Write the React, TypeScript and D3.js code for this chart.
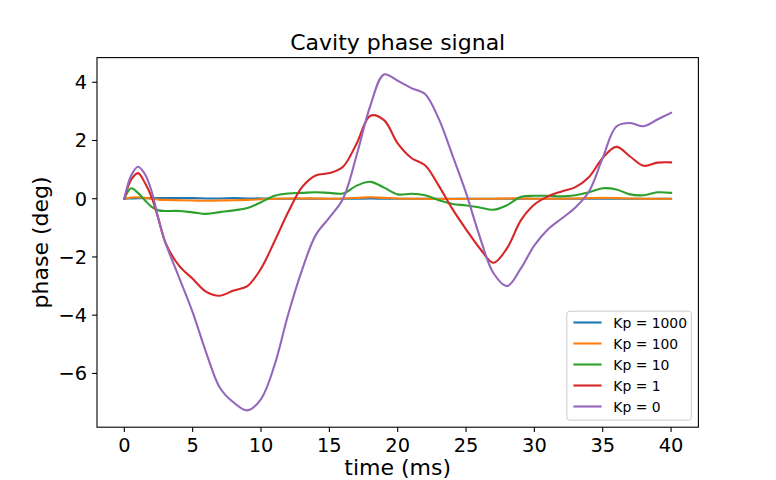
import * as d3 from 'd3';

// time samples (ms), finer near the start where the curves move fast
const TIME = [
  0, 0.5, 1, 1.5, 2, 2.5, 3, 4, 5, 6, 7, 8, 9, 10, 11, 12, 13, 14, 15, 16, 17, 18,
  19, 20, 21, 22, 23, 24, 25, 26, 27, 28, 29, 30, 31, 32, 33, 34, 35, 36, 37, 38, 39, 40,
];

const KP_1000 = [
  0, 0.01, 0.02, 0.02, 0.02, 0.02, 0.02, 0.02, 0.02, 0.01, 0.01, 0.02, 0.01, 0.01, 0, 0,
  0, 0, 0, 0, 0, 0.01, 0, 0, 0, 0, 0, 0, 0, 0, 0, 0, 0, 0, 0, 0, 0, 0, 0, 0, 0, 0, 0, 0,
];
const KP_100 = [
  0, 0.04, 0.05, 0.03, 0, -0.03, -0.04, -0.05, -0.06, -0.07, -0.06, -0.05, -0.04, -0.02,
  0, 0.01, 0.01, 0.01, 0, 0.01, 0.03, 0.05, 0.03, 0.01, 0, 0, -0.01, -0.01, 0, 0, 0,
  0.01, 0.01, 0, 0, 0, 0.01, 0.02, 0.03, 0.02, 0.01, 0, 0, 0,
];
const KP_10 = [
  0, 0.36, 0.2, -0.05, -0.28, -0.4, -0.42, -0.42, -0.47, -0.52, -0.46, -0.4, -0.32, -0.12,
  0.1, 0.18, 0.2, 0.22, 0.2, 0.18, 0.45, 0.58, 0.38, 0.15, 0.17, 0.12, -0.05, -0.18, -0.23,
  -0.3, -0.38, -0.22, 0.06, 0.1, 0.1, 0.08, 0.12, 0.22, 0.36, 0.32, 0.15, 0.12, 0.22, 0.2,
];
const KP_1 = [
  0, 0.65, 0.88, 0.55, 0.05, -0.7, -1.5, -2.3, -2.75, -3.2, -3.33, -3.15, -3.0, -2.4,
  -1.45, -0.45, 0.4, 0.8, 0.88, 1.1, 1.9, 2.85, 2.7, 1.9, 1.4, 1.15, 0.45, -0.35, -1.05,
  -1.7, -2.2, -1.7, -0.75, -0.2, 0.08, 0.25, 0.4, 0.75, 1.4, 1.78, 1.45, 1.13, 1.24, 1.25,
];
const KP_0 = [
  0, 0.8, 1.1, 0.85, 0.25, -0.7, -1.5, -2.7, -3.9, -5.3, -6.5, -7.0, -7.27, -6.88, -5.7,
  -3.95, -2.45, -1.25, -0.65, 0.0, 1.5, 3.2, 4.27, 4.05, 3.8, 3.6, 2.75, 1.5, 0.2, -1.3,
  -2.55, -3.0, -2.4, -1.6, -1.05, -0.68, -0.3, 0.25, 1.4, 2.48, 2.6, 2.49, 2.72, 2.95,
];

const LABELS = ['Kp = 1000', 'Kp = 100', 'Kp = 10', 'Kp = 1', 'Kp = 0'];
const SERIES = [KP_1000, KP_100, KP_10, KP_1, KP_0];
const COLORS = ['#1f77b4', '#ff7f0e', '#2ca02c', '#d62728', '#9467bd'];
const X_TICKS = [0, 5, 10, 15, 20, 25, 30, 35, 40];
const Y_TICKS = [-6, -4, -2, 0, 2, 4];

const FONT = '"DejaVu Sans", sans-serif';

export default function App() {
  const width = 776;
  const height = 480;
  const margin = { top: 57.6, right: 77.6, bottom: 52.8, left: 97 };
  const innerW = width - margin.left - margin.right;
  const innerH = height - margin.top - margin.bottom;

  const x = d3.scaleLinear().domain([-2, 42]).range([0, innerW]);

  const all = SERIES.flat();
  const lo = d3.min(all) ?? 0;
  const hi = d3.max(all) ?? 0;
  const pad = (hi - lo) * 0.05;
  const y = d3.scaleLinear().domain([lo - pad, hi + pad]).range([innerH, 0]);

  const line = d3
    .line<number>()
    .x((_, i) => x(TIME[i]))
    .y((v) => y(v))
    .curve(d3.curveCatmullRom.alpha(0.5));

  const fmt = (t: number) => (t < 0 ? `\u2212${Math.abs(t)}` : String(t));

  // legend box (lower right)
  const legW = 124.6;
  const legH = 109;
  const legX = innerW - 7 - legW;
  const legY = innerH - 7 - legH;

  return (
    <svg
      width={width}
      height={height}
      style={{ position: 'absolute', left: 0, top: 0, background: '#fff' }}
      fontFamily={FONT}
    >
      <rect width={width} height={height} fill='#fff' />
      <text x={margin.left + innerW / 2} y={49.5} textAnchor='middle' fontSize={22}>
        Cavity phase signal
      </text>
      <g transform={`translate(${margin.left},${margin.top})`}>
        <defs>
          <clipPath id='plot'>
            <rect width={innerW} height={innerH} />
          </clipPath>
        </defs>

        {/* series */}
        <g clipPath='url(#plot)'>
          {SERIES.map((s, i) => (
            <path
              key={LABELS[i]}
              d={line(s) ?? ''}
              fill='none'
              stroke={COLORS[i]}
              strokeWidth={2.1}
              strokeLinejoin='round'
              strokeLinecap='square'
            />
          ))}
        </g>

        {/* frame */}
        <rect width={innerW} height={innerH} fill='none' stroke='#000' strokeWidth={1.1} />

        {/* x axis */}
        {X_TICKS.map((t) => (
          <g key={t} transform={`translate(${x(t)},${innerH})`}>
            <line y2={4.9} stroke='#000' strokeWidth={1.1} />
            <text y={24.5} textAnchor='middle' fontSize={19.4}>
              {fmt(t)}
            </text>
          </g>
        ))}
        <text x={innerW / 2} y={innerH + 47.5} textAnchor='middle' fontSize={22}>
          time (ms)
        </text>

        {/* y axis */}
        {Y_TICKS.map((t) => (
          <g key={t} transform={`translate(0,${y(t)})`}>
            <line x2={-4.9} stroke='#000' strokeWidth={1.1} />
            <text x={-9.8} y={7} textAnchor='end' fontSize={19.4}>
              {fmt(t)}
            </text>
          </g>
        ))}
        <text
          transform={`translate(${48 - margin.left},${innerH / 2}) rotate(-90)`}
          textAnchor='middle'
          fontSize={22}
        >
          phase (deg)
        </text>

        {/* legend */}
        <g transform={`translate(${legX},${legY})`}>
          <rect
            width={legW}
            height={legH}
            rx={3}
            fill='#fff'
            fillOpacity={0.8}
            stroke='#cccccc'
            strokeWidth={1}
          />
          {LABELS.map((label, i) => {
            const ly = 11.3 + i * 21;
            return (
              <g key={label} transform={`translate(0,${ly})`}>
                <line x1={6.6} x2={34.8} stroke={COLORS[i]} strokeWidth={2.1} />
                <text x={46.5} y={5.5} fontSize={13.9}>
                  {label}
                </text>
              </g>
            );
          })}
        </g>
      </g>
    </svg>
  );
}
